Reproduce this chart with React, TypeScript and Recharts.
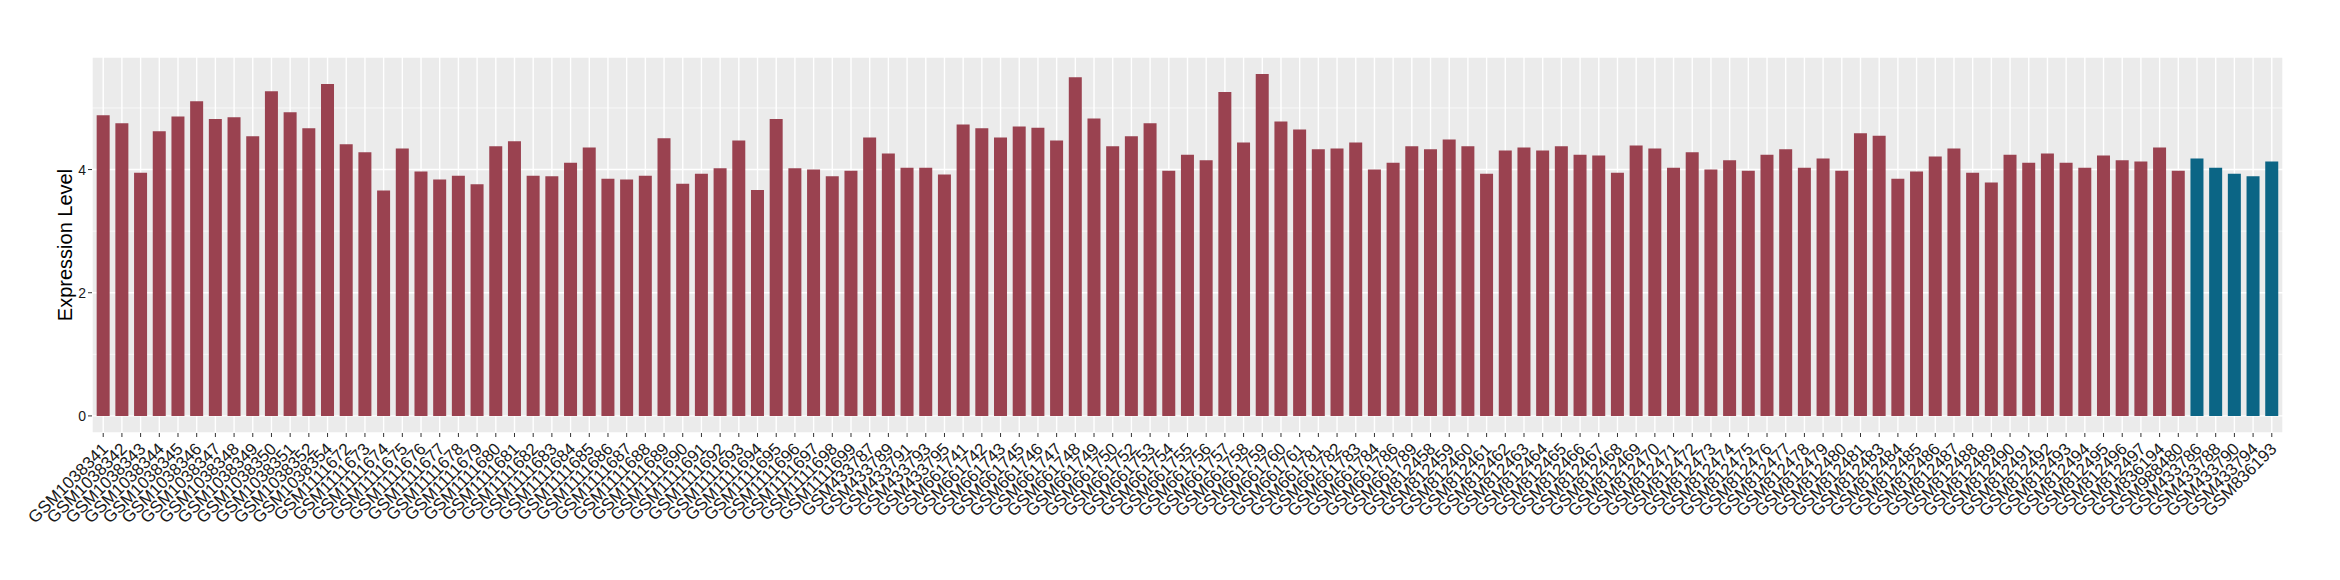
import React from 'react';
import { BarChart, Bar, XAxis, YAxis, CartesianGrid, Cell, Label } from 'recharts';

const samples: string[] = [
  'GSM1038341','GSM1038342','GSM1038343','GSM1038344','GSM1038345','GSM1038346','GSM1038347','GSM1038348','GSM1038349','GSM1038350',
  'GSM1038351','GSM1038352','GSM1038354','GSM1111672','GSM1111673','GSM1111674','GSM1111675','GSM1111676','GSM1111677','GSM1111678',
  'GSM1111679','GSM1111680','GSM1111681','GSM1111682','GSM1111683','GSM1111684','GSM1111685','GSM1111686','GSM1111687','GSM1111688',
  'GSM1111689','GSM1111690','GSM1111691','GSM1111692','GSM1111693','GSM1111694','GSM1111695','GSM1111696','GSM1111697','GSM1111698',
  'GSM1111699','GSM433787','GSM433789','GSM433791','GSM433793','GSM433795','GSM661741','GSM661742','GSM661743','GSM661745',
  'GSM661746','GSM661747','GSM661748','GSM661749','GSM661750','GSM661752','GSM661753','GSM661754','GSM661755','GSM661756',
  'GSM661757','GSM661758','GSM661759','GSM661760','GSM661761','GSM661781','GSM661782','GSM661783','GSM661784','GSM661786',
  'GSM661789','GSM812458','GSM812459','GSM812460','GSM812461','GSM812462','GSM812463','GSM812464','GSM812465','GSM812466',
  'GSM812467','GSM812468','GSM812469','GSM812470','GSM812471','GSM812472','GSM812473','GSM812474','GSM812475','GSM812476',
  'GSM812477','GSM812478','GSM812479','GSM812480','GSM812481','GSM812483','GSM812484','GSM812485','GSM812486','GSM812487',
  'GSM812488','GSM812489','GSM812490','GSM812491','GSM812492','GSM812493','GSM812494','GSM812495','GSM812496','GSM812497',
  'GSM836194','GSM988480','GSM433786','GSM433788','GSM433790','GSM433794','GSM836193',
];

const expression: number[] = [
  4.88, 4.75, 3.95, 4.62, 4.86, 5.11, 4.82, 4.85, 4.54, 5.27,
  4.93, 4.67, 5.39, 4.41, 4.28, 3.66, 4.34, 3.97, 3.84, 3.90,
  3.76, 4.38, 4.46, 3.90, 3.89, 4.11, 4.36, 3.85, 3.84, 3.90,
  4.51, 3.77, 3.93, 4.02, 4.47, 3.67, 4.82, 4.02, 4.00, 3.89,
  3.98, 4.52, 4.26, 4.03, 4.03, 3.92, 4.73, 4.67, 4.52, 4.70,
  4.68, 4.47, 5.50, 4.83, 4.38, 4.54, 4.75, 3.98, 4.24, 4.15,
  5.26, 4.44, 5.55, 4.78, 4.65, 4.33, 4.34, 4.44, 4.00, 4.11,
  4.38, 4.33, 4.49, 4.38, 3.93, 4.31, 4.36, 4.31, 4.38, 4.24,
  4.23, 3.95, 4.39, 4.34, 4.03, 4.28, 4.00, 4.15, 3.98, 4.24,
  4.33, 4.03, 4.18, 3.98, 4.59, 4.55, 3.85, 3.97, 4.21, 4.34,
  3.95, 3.79, 4.24, 4.11, 4.26, 4.11, 4.03, 4.23, 4.15, 4.13,
  4.36, 3.98, 4.18, 4.03, 3.93, 3.89, 4.13,
];

const normalSamples: string[] = ['GSM433786', 'GSM433788', 'GSM433790', 'GSM433794', 'GSM836193'];

const yTicks: number[] = [0, 2, 4];
const yMinorTicks: number[] = [1, 3, 5];
const yDomain: [number, number] = [-0.2775, 5.8275];

const TUMOR_COLOR = '#9A4250';
const NORMAL_COLOR = '#0B6585';
const TEXT_COLOR = '#1A1A1A';

const data = samples.map((s, i) => ({ sample: s, value: expression[i] }));

const FONT = '"Liberation Sans", Arial, Helvetica, sans-serif';

const XTick = (props: any) => {
  const { x, y, payload } = props;
  return (
    <g transform={`translate(${x},${y})`}>
      <text
        x={0}
        y={0}
        transform="translate(6,11) rotate(-45)"
        textAnchor="end"
        fontSize={17}
        fontFamily={FONT}
        fill={TEXT_COLOR}
      >
        {payload.value}
      </text>
    </g>
  );
};

export default function App() {
  return (
    <div style={{ position: 'absolute', left: 0, top: 0, width: 2340, height: 580, background: '#fff' }}>
      <BarChart
        width={2340}
        height={580}
        data={data}
        margin={{ top: 57, right: 57, bottom: 7, left: 0 }}
        barCategoryGap="15%"
      >
        <CartesianGrid fill="#EBEBEB" stroke="#FFFFFF" strokeWidth={1.4} />
        <CartesianGrid
          vertical={false}
          stroke="#FFFFFF"
          strokeWidth={0.7}
          horizontalCoordinatesGenerator={(p: any) => {
            const sc = p?.yAxis?.scale;
            if (sc && typeof sc === 'function') return yMinorTicks.map((v) => sc(v));
            const { offset } = p;
            return yMinorTicks.map(
              (v) => offset.top + (offset.height * (yDomain[1] - v)) / (yDomain[1] - yDomain[0])
            );
          }}
        />
        <XAxis
          dataKey="sample"
          interval={0}
          height={140}
          axisLine={false}
          tickLine={{ stroke: '#333333' }}
          tickSize={4}
          tickMargin={2}
          padding={{ left: 1.87, right: 1.87 }}
          tick={<XTick />}
        />
        <YAxis
          width={92}
          domain={yDomain}
          allowDataOverflow
          ticks={yTicks}
          axisLine={false}
          tickLine={{ stroke: '#333333' }}
          tickSize={4}
          tickMargin={2}
          tick={{ fontSize: 14, fill: TEXT_COLOR, fontFamily: FONT }}
        >
          <Label
            content={() => (
              <text
                transform="translate(71.5,245) rotate(-90)"
                textAnchor="middle"
                fontSize={20}
                fontFamily={FONT}
                fill="#000000"
              >
                Expression Level
              </text>
            )}
          />
        </YAxis>
        <Bar dataKey="value" isAnimationActive={false}>
          {data.map((d) => (
            <Cell key={d.sample} fill={normalSamples.includes(d.sample) ? NORMAL_COLOR : TUMOR_COLOR} />
          ))}
        </Bar>
      </BarChart>
    </div>
  );
}
